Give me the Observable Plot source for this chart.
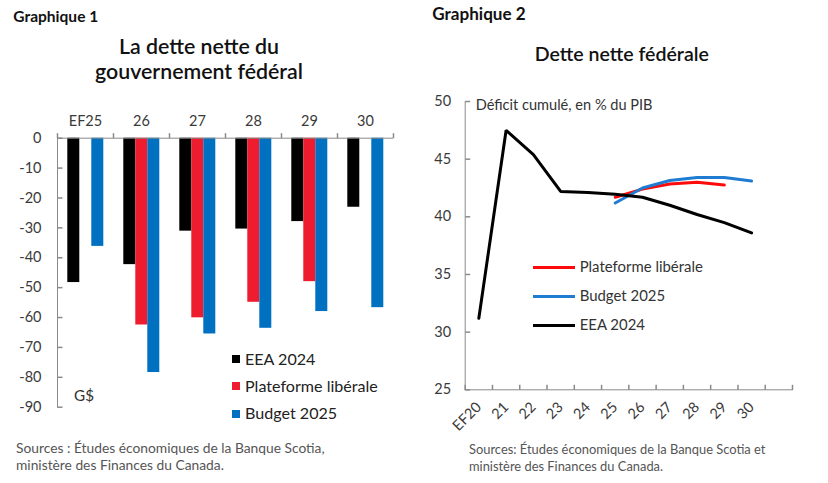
<!DOCTYPE html>
<html><head><meta charset="utf-8">
<script src="https://cdn.jsdelivr.net/npm/d3@7"></script>
<script src="https://cdn.jsdelivr.net/npm/@observablehq/plot@0.6"></script>
<style>
body{margin:0;background:#fff;font-family:Lato,"Open Sans",sans-serif;color:#1a1a1a;}
#root{position:relative;width:828px;height:483px;overflow:hidden;background:#fff;}
.abs{position:absolute;white-space:nowrap;line-height:1.2;}
.svgbox{position:absolute;}
.svgbox svg{overflow:visible;}
</style></head><body><div id="root"></div>
<script>
// ---------- Data: Graphique 1 (G$) ----------
const years1 = ["EF25", "26", "27", "28", "29", "30"];
const series1 = ["EEA 2024", "Plateforme libérale", "Budget 2025"];
const eea1 = [-48.3, -42.3, -31.1, -30.4, -27.9, -23.1];
const plat1 = [null, -62.5, -60.1, -54.9, -48.0, null];
const budget1 = [-36.2, -78.4, -65.5, -63.6, -58.0, -56.7];
const yTicks1 = [0, -10, -20, -30, -40, -50, -60, -70, -80, -90];
const colors1 = ["#000000", "#ED1C2E", "#0070C0"];

// ---------- Data: Graphique 2 (% du PIB) ----------
const labels2 = ["EF20", "21", "22", "23", "24", "25", "26", "27", "28", "29", "30"];
const eea2 = [31.2, 47.5, 45.4, 42.2, 42.1, 41.95, 41.7, 41.0, 40.2, 39.5, 38.6];
const plat2 = [null, null, null, null, null, 41.7, 42.4, 42.85, 43.0, 42.75, null];
const budget2 = [null, null, null, null, null, 41.2, 42.5, 43.15, 43.4, 43.4, 43.1];
const yTicks2 = [25, 30, 35, 40, 45, 50];
const series2 = ["Plateforme libérale", "Budget 2025", "EEA 2024"];
const colors2 = ["#FF0A0A", "#1F7CD0", "#000000"];

const gray = "#8a8a8a";
const FONT = "Lato, 'Open Sans', sans-serif";
const ASC = 0.987; // Lato ascent
const vTickUp = {draw(ctx) { ctx.moveTo(0, 0); ctx.lineTo(0, -5); }};
const hTickRight = {draw(ctx) { ctx.moveTo(0, 0); ctx.lineTo(5, 0); }};

const root = document.getElementById("root");
// text helper: place by baseline, optional fit to a target width
function txt(html, o) {
  const d = document.createElement("div");
  d.className = "abs";
  d.innerHTML = html;
  let f = o.size || 14;
  Object.assign(d.style, {fontSize: f + "px", fontWeight: o.weight || 400, color: o.color || "#222"});
  root.appendChild(d);
  if (o.fit) {
    const w = d.getBoundingClientRect().width;
    f = f * o.fit / w;
    d.style.fontSize = f + "px";
  }
  const w = d.getBoundingClientRect().width;
  const left = o.cx != null ? o.cx - w / 2 : o.x;
  d.style.left = left + "px";
  d.style.top = (o.baseline - ASC * f) + "px";
  return {el: d, size: f};
}

// ---------- Chart 1 ----------
const data1 = [];
years1.forEach((y, i) => {
  [eea1, plat1, budget1].forEach((arr, k) => {
    if (arr[i] != null) data1.push({year: y, series: series1[k], value: arr[i]});
  });
});

const chart1 = Plot.plot({
  width: 414, height: 330,
  marginTop: 47.7, marginBottom: 13.3, marginLeft: 55.7, marginRight: 20,
  style: {fontFamily: FONT, fontSize: "14px", color: "#3a3a3a", background: "transparent", overflow: "visible"},
  fx: {domain: years1, padding: 0, label: null},
  x: {domain: series1, paddingInner: 0, paddingOuter: 0.8, axis: null},
  y: {domain: [-90, 0], label: null},
  color: {domain: series1, range: colors1},
  marks: [
    Plot.barY(data1, {fx: "year", x: "series", y: "value", fill: "series"}),
    Plot.ruleY([0], {stroke: gray}),
    Plot.axisFx({anchor: "top", tickSize: 0, tickPadding: 12, label: null, fontSize: 14.5}),
    Plot.axisY({ticks: yTicks1, tickFormat: d => String(d), tickSize: 0, tickPadding: 16, label: null, fontSize: 14.5}),
    Plot.dot(yTicks1, {x: null, y: d => d, fx: () => years1[0], frameAnchor: "left", symbol: hTickRight, stroke: gray, fill: "none"}),
    Plot.frame({anchor: "left", fx: years1[0], stroke: gray}),
    Plot.dot([0], {x: null, y: null, frameAnchor: "top-left", symbol: vTickUp, stroke: gray, fill: "none"}),
    Plot.dot([0], {x: null, y: null, fx: () => years1[years1.length - 1], frameAnchor: "top-right", symbol: vTickUp, stroke: gray, fill: "none"})
  ]
});
const box1 = document.createElement("div");
box1.className = "svgbox";
Object.assign(box1.style, {left: "0px", top: "90px"});
box1.appendChild(chart1);
root.appendChild(box1);

// ---------- Chart 2 ----------
const idx2 = labels2.map((d, i) => i);
const lines2 = [plat2, budget2, eea2].map((arr, k) =>
  arr.map((v, i) => ({i, value: v, series: series2[k]})).filter(d => d.value != null));
const boundaries2 = d3.range(-0.5, labels2.length + 1, 1);

const chart2 = Plot.plot({
  width: 414, height: 352,
  marginTop: 11, marginBottom: 52.7, marginLeft: 50.7, marginRight: 36,
  style: {fontFamily: FONT, fontSize: "14px", color: "#3a3a3a", background: "transparent", overflow: "visible"},
  x: {domain: [-0.5, labels2.length + 0.5], label: null},
  y: {domain: [25, 50], label: null},
  color: {domain: series2, range: colors2},
  marks: [
    ...lines2.map(d => Plot.lineY(d, {x: "i", y: "value", stroke: "series", strokeWidth: 3, strokeLinejoin: "miter"})),
    Plot.axisY({ticks: yTicks2, tickSize: 0, tickPadding: 14, label: null, fontSize: 14.5}),
    Plot.dot(yTicks2, {x: null, y: d => d, frameAnchor: "left", symbol: hTickRight, stroke: gray, fill: "none"}),
    Plot.frame({anchor: "left", stroke: gray}),
    Plot.frame({anchor: "bottom", stroke: gray}),
    Plot.dot(boundaries2, {x: d => d, y: null, frameAnchor: "bottom", symbol: vTickUp, stroke: gray, fill: "none"}),
    Plot.axisX({ticks: idx2, tickFormat: i => labels2[i], tickRotate: -45, tickSize: 0, tickPadding: 15, label: null, fontSize: 14.5})
  ]
});
const box2 = document.createElement("div");
box2.className = "svgbox";
Object.assign(box2.style, {left: "414px", top: "90px"});
box2.appendChild(chart2);
root.appendChild(box2);

// ---------- Text ----------
txt("Graphique 1", {x: 13.3, baseline: 22.7, size: 15, fit: 85, weight: 700, color: "#111"});
txt("Graphique 2", {x: 432.3, baseline: 21, size: 15, fit: 93.4, weight: 700, color: "#111"});
const t1 = txt("gouvernement fédéral", {cx: 199, baseline: 80, size: 19, fit: 208, weight: 600, color: "#111"});
txt("La dette nette du", {cx: 199, baseline: 55, size: t1.size, weight: 600, color: "#111"});
txt("Dette nette fédérale", {cx: 621.8, baseline: 61, size: 19, fit: 174.3, weight: 600, color: "#111"});
txt("Déficit cumulé, en % du PIB", {x: 475.7, baseline: 110, size: 14, fit: 177, color: "#333"});
txt("G$", {x: 74, baseline: 400.7, size: 15, fit: 20, color: "#333"});

// legend 1 (squares + labels)
const legBase1 = [365, 391.7, 419.3];
const legSq1 = [355.3, 382, 410];
const l1 = txt(series1[1], {x: 245, baseline: legBase1[1], size: 15, fit: 133, color: "#222"});
series1.forEach((s, k) => {
  const sq = document.createElement("div");
  Object.assign(sq.style, {position: "absolute", left: "231.5px", top: legSq1[k] + "px", width: "8px", height: "8px", background: colors1[k]});
  root.appendChild(sq);
  if (k !== 1) txt(s, {x: 245, baseline: legBase1[k], size: l1.size, color: "#222"});
});
// legend 2 (lines + labels)
const legBase2 = [272.7, 301.7, 330.7];
const legLine2 = [267.7, 296.7, 325.7];
const l2 = txt(series2[0], {x: 579.7, baseline: legBase2[0], size: 14.5, fit: 123.3, color: "#333"});
series2.forEach((s, k) => {
  const ln = document.createElement("div");
  Object.assign(ln.style, {position: "absolute", left: "533px", top: (legLine2[k] - 1.5) + "px", width: "42px", height: "3px", background: colors2[k]});
  root.appendChild(ln);
  if (k !== 0) txt(s, {x: 579.7, baseline: legBase2[k], size: l2.size, color: "#333"});
});

// sources
const s1 = txt("Sources : Études économiques de la Banque Scotia,", {x: 16, baseline: 454, size: 13, fit: 309, color: "#555"});
txt("ministère des Finances du Canada.", {x: 16, baseline: 471, size: s1.size, color: "#555"});
const s2 = txt("Sources: Études économiques de la Banque Scotia et", {x: 469, baseline: 455, size: 13, fit: 296.7, color: "#555"});
txt("ministère des Finances du Canada.", {x: 469, baseline: 472, size: s2.size, color: "#555"});
</script>
</body></html>
